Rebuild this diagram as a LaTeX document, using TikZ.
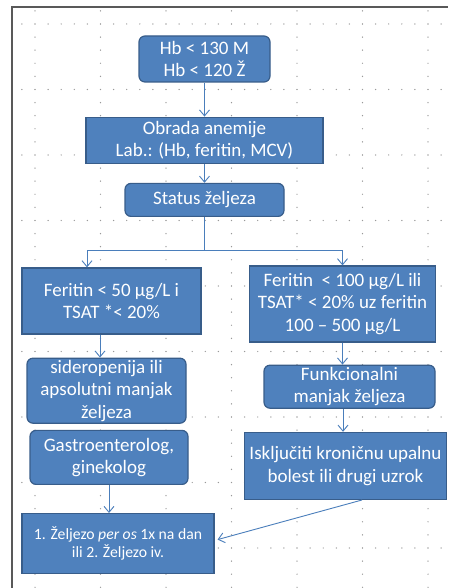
\documentclass[tikz,border=0pt]{standalone}
\usepackage{fontspec}
\setmainfont{Carlito}
\usetikzlibrary{positioning, arrows.meta}

\definecolor{boxfill}{RGB}{79,129,189}
\definecolor{boxline}{RGB}{56,93,138}
\definecolor{arrline}{RGB}{74,126,187}

\begin{document}
\begin{tikzpicture}[x=1pt, y=1pt,
		box/.style={draw=boxline, fill=boxfill, line width=1.2pt, text=white, align=center,
			inner sep=0pt, font=\fontsize{19}{22.5}\selectfont},
		rbox/.style={box, rounded corners=6pt},
		arr/.style={draw=arrline, line width=0.9pt, -{Straight Barb[length=6pt, width=10pt]}},
		griddot/.style={fill=black!40}]
		\useasboundingbox (0,0) rectangle (448,588);
		\fill[white] (0,0) rectangle (448,588);
		
		% grid of dots
		\foreach \k in {0,...,6}
			\foreach \j in {-1,...,43}
				\fill[griddot] (35+65.5*\k, 564-13.1*\j) circle (0.7pt);
		\foreach \k in {0,...,8}
			\foreach \j in {-1,...,31}
				\fill[griddot] (35+13.1*\j, 564-65.5*\k) circle (0.7pt);
		\draw[black!65, line width=1.5pt] (12,0) -- (12,581) -- (448,581);
		
		\node[rbox, minimum width=131pt, minimum height=46pt] at (204.5,529) (hb) {Hb < 130 M\\Hb < 120 Ž};
		\node[box, minimum width=237pt, minimum height=46pt, below=34pt of hb]  (obrada) {Obrada anemije\\Lab.: (Hb, feritin, MCV)};
		\node[rbox, minimum width=159pt, minimum height=33pt, below=19pt of obrada] (status) {Status željeza};
		\node[box, minimum width=179pt, minimum height=66pt] at (111.5,287) (feritin l) {Feritin < 50 µg/L i\\TSAT *< 20\%};
		\node[box, minimum width=186pt, minimum height=76pt] at (342.5,284) (feritin r) {Feritin\ \ < 100 µg/L ili\\TSAT* < 20\% uz feritin\\100 – 500 µg/L};
		\node[rbox, minimum width=159pt, minimum height=65pt, below=23pt of feritin l, xshift=-5pt] (sidero) {sideropenija ili\\apsolutni manjak\\željeza};
		\node[rbox, minimum width=171pt, minimum height=43pt, below=22pt of feritin r, xshift=7pt] (funkc) {Funkcionalni\\manjak željeza};
		\node[rbox, minimum width=158pt, minimum height=54pt, below=6pt of sidero, xshift=2.5pt] (gastro) {Gastroenterolog,\\ginekolog};
		\node[box, minimum width=202pt, minimum height=67pt, below=23pt of funkc, xshift=-4pt] (iskljuciti) {Isključiti kroničnu upalnu\\bolest ili drugi uzrok};
		\node[box, minimum width=192pt, minimum height=60pt, below=28pt of gastro, xshift=9pt, font=\fontsize{15.7}{18}\selectfont] (terapija) {1. Željezo \textit{per os} 1x na dan\\ili 2. Željezo iv.};
		
		\draw[arr] (hb) -- (obrada);
		\draw[arr] (obrada) -- (status);
		\draw[arr] (status.south) -- ++(0,-33) coordinate (split) -| ([xshift=-24.5pt]feritin l.north);
		\draw[arr] (split) -| (feritin r.north);
		\draw[arr] ([xshift=-11.5pt]feritin l.south) -- ([xshift=-11.5pt]feritin l.south |- sidero.north);
		\draw[arr] (feritin r.south) -- (feritin r.south |- funkc.north);
		\draw[arr] ([xshift=-6.5pt]funkc.south) -- ([xshift=-6.5pt]funkc.south |- iskljuciti.north);
		\draw[arr] (gastro.south) -- (gastro.south |- terapija.north);
		\draw[arr] ([xshift=16.5pt]iskljuciti.south) -- ([xshift=3pt, yshift=4pt]terapija.east);
	\end{tikzpicture}
\end{document}
